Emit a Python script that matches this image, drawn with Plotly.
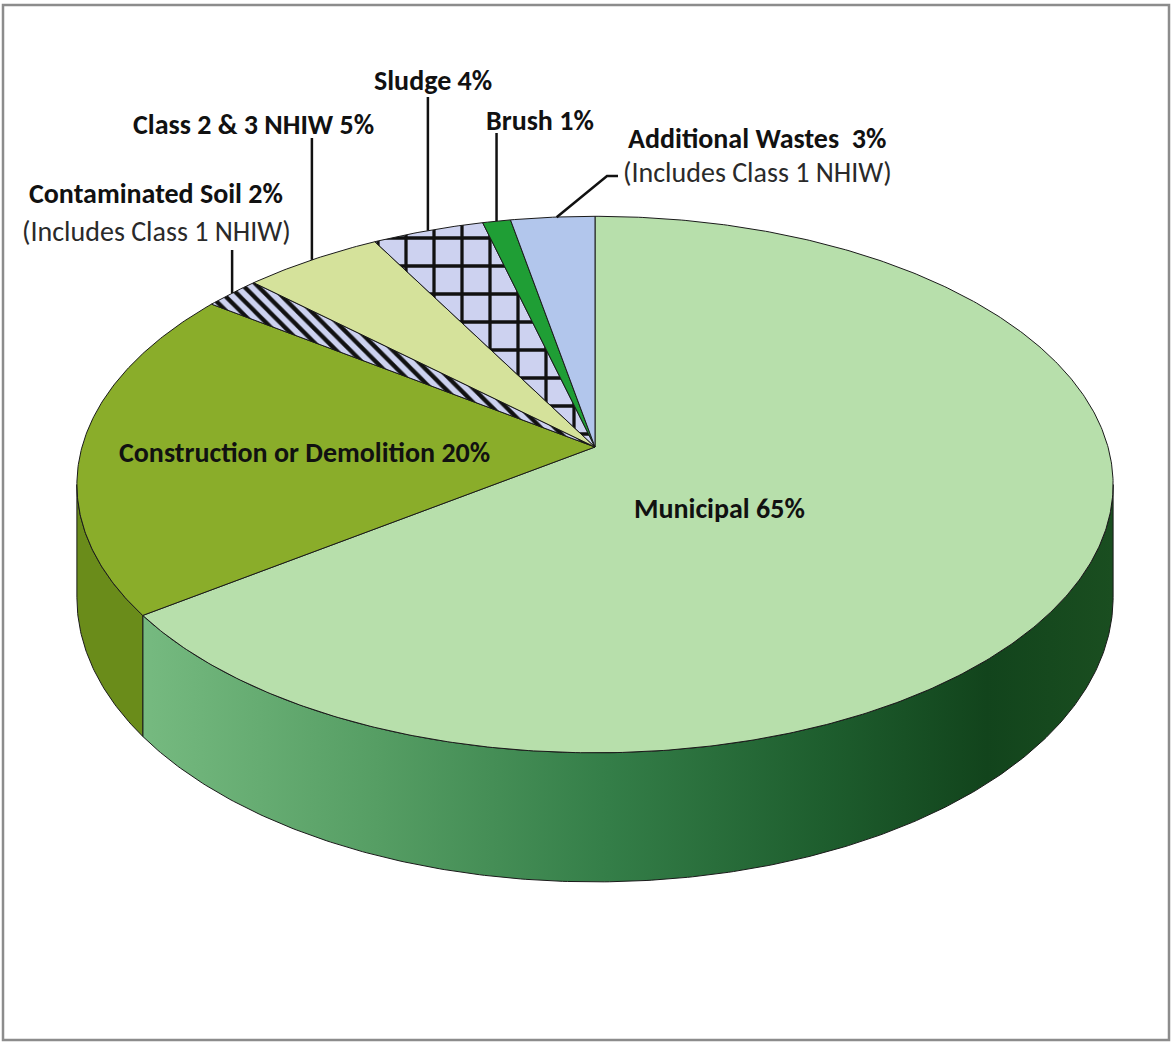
import numpy as np
import plotly.graph_objects as go

# ---------------- data ----------------
categories = ["Municipal", "Construction or Demolition", "Contaminated Soil",
              "Class 2 & 3 NHIW", "Sludge", "Brush", "Additional Wastes"]
values = [65, 20, 2, 5, 4, 1, 3]
label_main = ["Municipal 65%", "Construction or Demolition 20%", "Contaminated Soil 2%",
              "Class 2 & 3 NHIW 5%", "Sludge 4%", "Brush 1%", "Additional Wastes  3%"]
label_sub = ["", "", "(Includes Class 1 NHIW)", "", "", "", "(Includes Class 1 NHIW)"]

# ---------------- styles / layout ----------------
top_colors = ["#b7dfab", "#8aad2a", "#cdd2f0", "#d5e29b", "#cdd2f0", "#1f9e35", "#b2c6ec"]
patterns = [None, None, dict(shape="\\", size=10, solidity=0.42),
            None, dict(shape="+", size=28, solidity=0.22), None, None]
wall_colors = ["#3f8f55", "#6a8c1a", "#9aa0c0", "#a8b470", "#9aa0c0", "#17752a", "#8899c0"]
municipal_wall_scale = [[0.0, "rgb(118,186,128)"], [0.24, "rgb(86,158,100)"],
                        [0.48, "rgb(52,126,72)"], [0.70, "rgb(30,94,46)"],
                        [0.87, "rgb(18,68,28)"], [1.0, "rgb(26,78,32)"]]

CX, CY = 595.0, 447.0      # pixel position of the pie centre
RX, RY = 513.0, 263.0      # radii of the top face
K = 0.14                   # perspective factor
H = 111.0                  # wall height
W, HT = 1171, 1044
FONT = "Carlito, Lato, 'Liberation Sans', sans-serif"
FS = 28

# label placement (pixels): centre of main line, centre of sub line
label_pos = {
    "Municipal": (719, 508, None),
    "Construction or Demolition": (304, 452, None),
    "Contaminated Soil": (156, 193, 231),
    "Class 2 & 3 NHIW": (253, 124, None),
    "Sludge": (433, 80, None),
    "Brush": (540, 120, None),
    "Additional Wastes": (757, 138, 172),
}
leader_top = {"Contaminated Soil": 250, "Class 2 & 3 NHIW": 138, "Sludge": 97, "Brush": 133}


def proj(theta_deg, drop=0.0):
    th = np.radians(theta_deg)
    X = np.sin(th)
    Z = -np.cos(th)
    d = 1 - K * Z
    return CX + RX * X / d, CY + RY * Z / d + drop / d


fig = go.Figure()

total = float(sum(values))
angles = np.concatenate([[0.0], np.cumsum(values) / total * 360.0])

# visible wall range (silhouette of the cylinder)
th_r = np.degrees(np.arccos(-K))
th_l = 360.0 - th_r

# ---- side walls ----
for i, cat in enumerate(categories):
    a0, a1 = max(angles[i], th_r), min(angles[i + 1], th_l)
    if a1 <= a0:
        continue
    th = np.linspace(a0, a1, max(int((a1 - a0) * 2), 4))
    xt, yt = proj(th)
    xb, yb = proj(th[::-1], H)
    xs = np.concatenate([xt, xb, xt[:1]])
    ys = np.concatenate([yt, yb, yt[:1]])
    kw = dict(fillcolor=wall_colors[i])
    if i == 0:
        kw = dict(fillgradient=dict(type="horizontal", colorscale=municipal_wall_scale,
                                    start=float(xs.min()), stop=float(xs.max())))
    fig.add_trace(go.Scatter(x=xs, y=ys, mode="lines", fill="toself",
                             line=dict(color="#1a1a1a", width=1), hoverinfo="skip",
                             showlegend=False, **kw))

# ---- top faces ----
for i, cat in enumerate(categories):
    a0, a1 = angles[i], angles[i + 1]
    th = np.linspace(a0, a1, max(int((a1 - a0) * 2), 4))
    xa, ya = proj(th)
    xs = np.concatenate([[CX], xa, [CX]])
    ys = np.concatenate([[CY], ya, [CY]])
    kw = dict(fillcolor=top_colors[i])
    if patterns[i] is not None:
        p = dict(patterns[i])
        p.update(bgcolor=top_colors[i], fgcolor="#111111", fillmode="replace")
        kw["fillpattern"] = p
    fig.add_trace(go.Scatter(x=xs, y=ys, mode="lines", fill="toself",
                             line=dict(color="#1a1a1a", width=1), name=cat,
                             hoverinfo="name", showlegend=False, **kw))

# ---- labels and leader lines ----
for i, cat in enumerate(categories):
    lx, ly, sy = label_pos[cat]
    fig.add_annotation(x=lx, y=ly, text="<b>" + label_main[i] + "</b>", showarrow=False,
                       font=dict(family=FONT, size=FS, color="#111111"),
                       xanchor="center", yanchor="middle")
    if sy is not None and label_sub[i]:
        fig.add_annotation(x=lx, y=sy, text=label_sub[i], showarrow=False,
                           font=dict(family=FONT, size=FS, color="#2a2a2a"),
                           xanchor="center", yanchor="middle")
    mid = (angles[i] + angles[i + 1]) / 2
    ex, ey = proj(mid)
    if cat in leader_top:
        fig.add_trace(go.Scatter(x=[ex, ex], y=[leader_top[cat], ey], mode="lines",
                                 line=dict(color="#111111", width=2.5),
                                 hoverinfo="skip", showlegend=False))
    elif cat == "Additional Wastes":
        x0 = lx - 139
        fig.add_trace(go.Scatter(x=[x0, x0 - 11, ex + 4], y=[sy + 4, sy + 4, ey],
                                 mode="lines", line=dict(color="#111111", width=2.5),
                                 hoverinfo="skip", showlegend=False))

# frame
fig.add_shape(type="rect", x0=3, y0=5, x1=1169, y1=1040,
              line=dict(color="#8c8c8c", width=2.5))

fig.update_layout(
    width=W, height=HT, margin=dict(l=0, r=0, t=0, b=0),
    paper_bgcolor="white", plot_bgcolor="white",
    xaxis=dict(range=[0, W], visible=False, fixedrange=True),
    yaxis=dict(range=[HT, 0], visible=False, fixedrange=True),
    showlegend=False,
)

fig.write_html("out.html", config={"displayModeBar": False},
               post_script="document.body.style.margin='0';")
